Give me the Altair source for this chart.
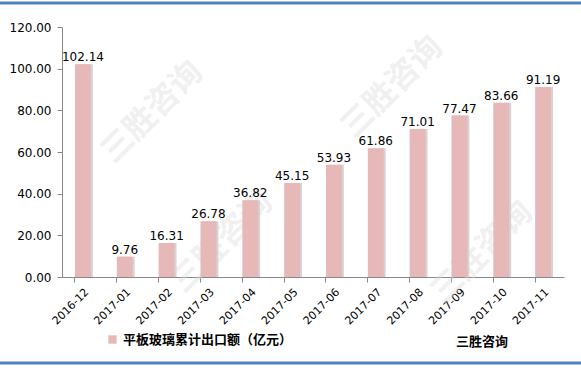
import altair as alt
import pandas as pd

months = ["2016-12", "2017-01", "2017-02", "2017-03", "2017-04", "2017-05",
          "2017-06", "2017-07", "2017-08", "2017-09", "2017-10", "2017-11"]
values = [102.14, 9.76, 16.31, 26.78, 36.82, 45.15, 53.93, 61.86, 71.01, 77.47, 83.66, 91.19]
series_name = "平板玻璃累计出口额（亿元）"
source_text = "三胜咨询"

df = pd.DataFrame({"month": months, "value": values, "series": [series_name] * len(months)})

FONT = "DejaVu Sans"
W, H = 502, 250

xscale = alt.Scale(paddingInner=0.62, paddingOuter=0.31)
yscale = alt.Scale(domain=[0, 120])

xenc = alt.X("month:N", sort=months, title=None, scale=xscale,
             axis=alt.Axis(labelAngle=-45, labelAlign="right", labelBaseline="top",
                           labelFontSize=11, labelFont=FONT, labelColor="#000",
                           labelPadding=4, bandPosition=0, tickSize=5,
                           domainColor="#888", tickColor="#888", labelOverlap=False))
yenc = alt.Y("value:Q", title=None, scale=yscale,
             axis=alt.Axis(values=[0, 20, 40, 60, 80, 100, 120], format=".2f",
                           labelFontSize=12, labelFont=FONT, labelColor="#000",
                           grid=False, tickSize=5, domainColor="#888", tickColor="#888",
                           labelPadding=6))
xna = alt.X("month:N", sort=months, title=None, scale=xscale, axis=None)
yna = alt.Y("value:Q", title=None, scale=yscale, axis=None)

base = alt.Chart(df)

shadow = base.mark_bar(color="#d4d4d4", xOffset=2).encode(x=xna, y=yna)
bars = base.mark_bar().encode(
    x=xenc, y=yenc,
    color=alt.Color("series:N",
                    scale=alt.Scale(range=["#E6B9B8"]),
                    legend=alt.Legend(title=None, orient="none", legendX=44, legendY=306,
                                      symbolType="square", symbolSize=70,
                                      labelFontSize=13, labelFont="Noto Sans CJK SC",
                                      labelFontWeight="bold", labelColor="#000",
                                      labelLimit=300)))
labels = base.mark_text(dy=-7, fontSize=12, font=FONT, color="#000").encode(
    x=xna, y=yna, text=alt.Text("value:Q", format=".2f"))

wm_df = pd.DataFrame({"t": [source_text] * 4,
                      "px": [90, 330, 160, 420],
                      "py": [85, 60, 215, 225]})
watermark = alt.Chart(wm_df).mark_text(angle=315, fontSize=32, font="Noto Sans CJK SC",
                                       fontWeight="bold", color="#dcdcdc", opacity=0.4).encode(
    x=alt.X("px:Q", scale=alt.Scale(domain=[0, W], range=[0, W]), axis=None),
    y=alt.Y("py:Q", scale=alt.Scale(domain=[0, H], range=[0, H]), axis=None),
    text="t:N")

src = alt.Chart(pd.DataFrame({"t": [source_text]})).mark_text(
    fontSize=13, font="Noto Sans CJK SC", fontWeight="bold", color="#000", align="left").encode(
    x=alt.value(394), y=alt.value(315), text="t:N")

top_line = alt.Chart(pd.DataFrame({"a": [0]})).mark_rule(color="#4F81BD", strokeWidth=3).encode(
    x=alt.value(-62), x2=alt.value(W + 17), y=alt.value(-24))
bot_line = alt.Chart(pd.DataFrame({"a": [0]})).mark_rule(color="#4F81BD", strokeWidth=3).encode(
    x=alt.value(-62), x2=alt.value(W + 17), y=alt.value(336))

chart = alt.layer(watermark, shadow, bars, labels, src, top_line, bot_line).resolve_scale(
    x="independent", y="independent"
).properties(
    width=W, height=H,
    autosize=alt.AutoSizeParams(type="none"),
    padding={"left": 62, "top": 27, "right": 17, "bottom": 92},
    background="white"
).configure_view(stroke=None)

chart.save("out.html", embed_options={"renderer": "svg", "actions": False})
